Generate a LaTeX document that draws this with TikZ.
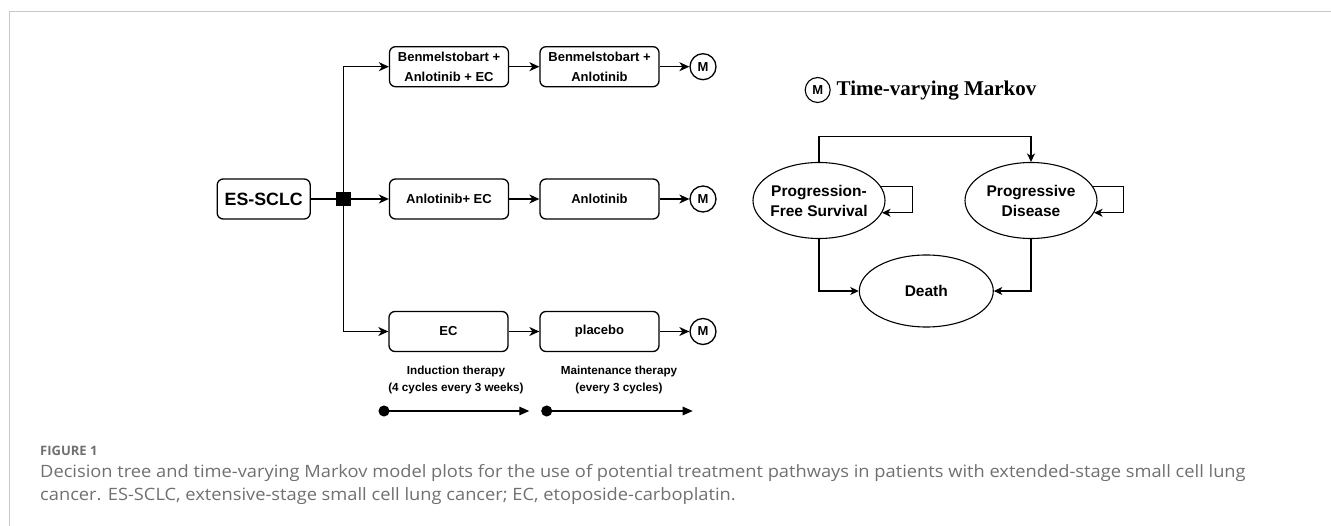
\documentclass[tikz,border=0pt]{standalone}
\usepackage{graphicx}
\usepackage{fontspec}
\setmainfont{Liberation Sans}
\newfontfamily\titleserif{Liberation Serif}
\newfontfamily\capfont{Open Sans}
\usetikzlibrary{arrows.meta,shapes.geometric}
\definecolor{framegray}{HTML}{C8C8C8}
\definecolor{capgray}{HTML}{707070}
\begin{document}
\begin{tikzpicture}[x=1pt,y=-1pt,
  box/.style={draw, rounded corners=6pt, line width=1.3pt, minimum width=119pt, minimum height=40pt, align=center, inner sep=0pt, font=\fontsize{13}{20}\selectfont\bfseries},
  rootbox/.style={draw, rounded corners=6pt, line width=1.3pt, minimum width=93pt, minimum height=40pt, inner sep=0pt, font=\fontsize{17.8}{20}\selectfont\bfseries},
  junction/.style={fill=black, minimum size=14.5pt, inner sep=0pt},
  mnode/.style={draw, circle, line width=1.3pt, minimum size=26pt, inner sep=0pt, font=\fontsize{13}{13}\selectfont\bfseries},
  conn/.style={line width=1.3pt, -{Stealth[length=10pt,width=9pt,inset=3pt]}},
  phase/.style={align=center, font=\fontsize{11.7}{17}\selectfont\bfseries},
  timeline/.style={line width=1.3pt, {Circle[length=11pt,width=11pt]}-{Triangle[length=10pt,width=8.5pt]}},
  stateshape/.style={draw, ellipse, line width=1.1pt, inner sep=0pt},
  statetext/.style={align=center, font=\fontsize{15.5}{20}\selectfont\bfseries},
  mconn/.style={line width=1.1pt, -{Stealth[length=8.5pt,width=8pt,inset=2.5pt]}},
  captext/.style={anchor=base west, inner sep=0pt, text=capgray}
]
\useasboundingbox (0,0) rectangle (1331,526);
\draw[framegray, line width=1pt] (9.5,526) -- (9.5,11.5) -- (1331,11.5);

% decision tree
\node[rootbox] (root) at (263.7,199) {ES-SCLC};
\node[junction] (jn) at (343.3,199) {};
\node[box] (b1) at (449,66.7) {Benmelstobart +\\Anlotinib + EC};
\node[box] (b2) at (599.5,66.7) {Benmelstobart +\\Anlotinib};
\node[mnode] (bm) at (703,66.7) {M};
\node[box] (a1) at (449,199) {Anlotinib+ EC};
\node[box] (a2) at (599.5,199) {Anlotinib};
\node[mnode] (am) at (703,199) {M};
\node[box] (c1) at (448.5,331.5) {EC};
\node[box] (c2) at (599.5,331.5) {placebo};
\node[mnode] (cm) at (703,331.5) {M};

\draw[line width=1.3pt] (root.east) -- (jn.center);
\draw[conn] (jn.center) |- (b1.west);
\draw[conn] (jn.center) -- (a1.west);
\draw[conn] (jn.center) |- (c1.west);
\node[junction] at (jn) {};
\draw[conn] (b1) -- (b2);
\draw[conn] (b2) -- (bm);
\draw[conn] (a1) -- (a2);
\draw[conn] (a2) -- (am);
\draw[conn] (c1) -- (c2);
\draw[conn] (c2) -- (cm);

\node[phase] (ph1) at (456,380) {Induction therapy\\(4 cycles every 3 weeks)};
\node[phase] (ph2) at (619,380) {Maintenance therapy\\(every 3 cycles)};
\coordinate (t1s) at (378.5,411);
\coordinate (t1e) at (529.3,411);
\coordinate (t2s) at (541.2,411);
\coordinate (t2e) at (692.7,411);
\draw[timeline] (t1s) -- (t1e);
\draw[timeline] (t2s) -- (t2e);

% Markov model
\node[mnode, minimum size=25pt, line width=1.1pt] (tm) at (817.7,90) {M};
\node[anchor=west, inner sep=0pt, font=\titleserif\fontsize{21}{21}\selectfont\bfseries] (title) at (836.5,91) {Time-varying Markov};

\node[stateshape, minimum width=132pt, minimum height=76pt] (pfs) at (819,200.5) {};
\node[statetext] at (pfs) {Progression-\\Free Survival};
\node[stateshape, minimum width=132pt, minimum height=76pt] (pd) at (1031,200.5) {};
\node[statetext] at (pd) {Progressive\\Disease};
\node[stateshape, minimum width=134pt, minimum height=72pt] (death) at (926.3,291) {};
\node[statetext] at (death) {Death};

\coordinate (topy) at (0,136.7);
\draw[mconn] (pfs.north) -- (pfs.north |- topy) -| (pd.north);
\draw[mconn] (pfs.13) -- ++(32,0) |- (pfs.-11);
\draw[mconn] (pd.13) -- ++(31,0) |- (pd.-11);
\draw[mconn] (pfs.south) |- (death.west);
\draw[mconn] (pd.south) |- (death.east);

% caption
\node[captext, font=\capfont\fontsize{13}{13}\selectfont\bfseries] (figlab) at (40,456) {FIGURE 1};
\node[captext, font=\capfont\fontsize{17}{17}\selectfont] (cap1) at (40,478) {\scalebox{1.075}[1]{Decision tree and time-varying Markov model plots for the use of potential treatment pathways in patients with extended-stage small cell lung}};
\node[captext, font=\capfont\fontsize{17}{17}\selectfont] (cap2) at (40,500) {\scalebox{1.075}[1]{cancer. ES-SCLC, extensive-stage small cell lung cancer; EC, etoposide-carboplatin.}};
\end{tikzpicture}
\end{document}
